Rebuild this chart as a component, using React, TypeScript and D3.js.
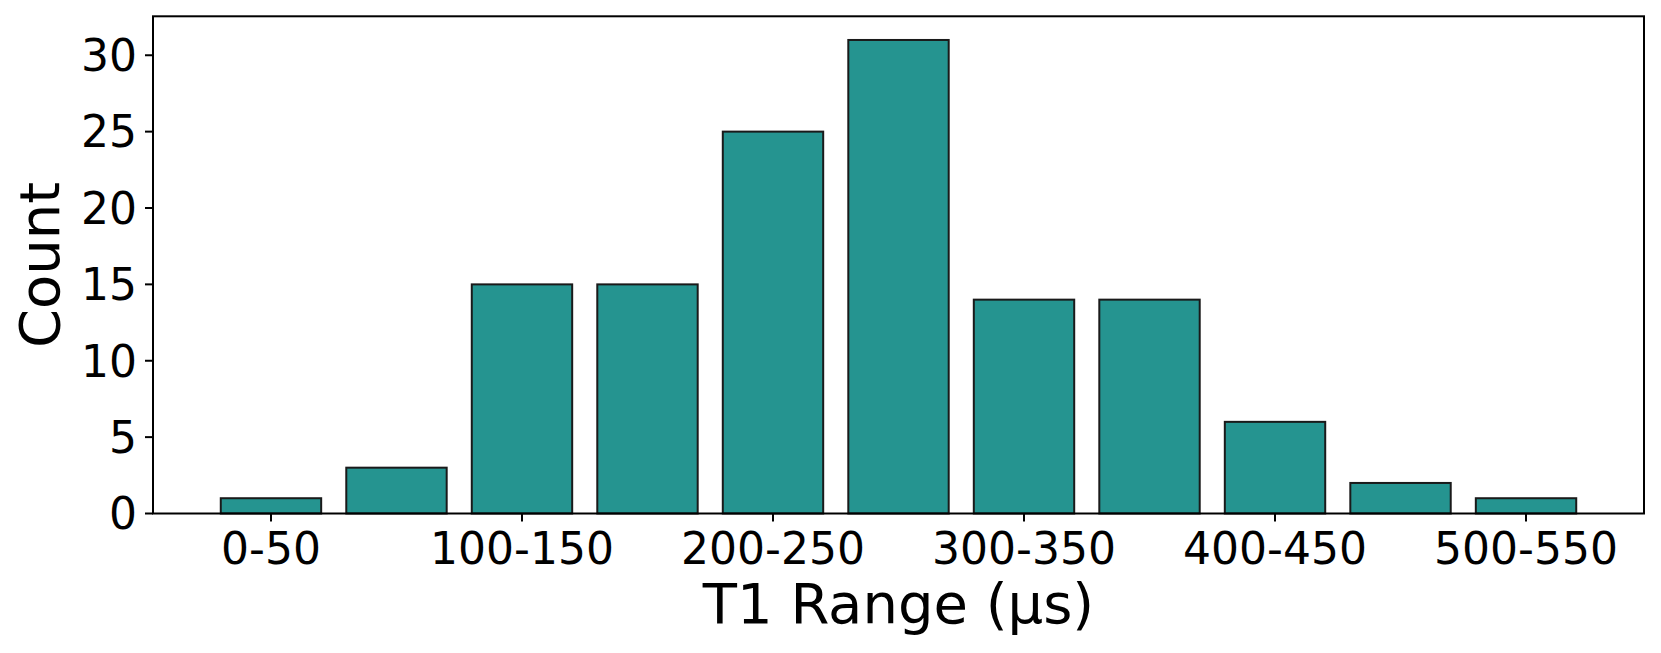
import React from "react";
import * as d3 from "d3";

const categories = ["0-50", "50-100", "100-150", "150-200", "200-250", "250-300", "300-350", "350-400", "400-450", "450-500", "500-550"];
const counts = [1, 3, 15, 15, 25, 31, 14, 14, 6, 2, 1];
const xTickLabels = ["0-50", "100-150", "200-250", "300-350", "400-450", "500-550"];
const yTicks = [0, 5, 10, 15, 20, 25, 30];

const W = 1661;
const H = 653;
const left = 153;
const right = 1644;
const top = 16.3;
const bottom = 513.5;
const FONT = "'DejaVu Sans', sans-serif";

export default function App() {
  const n = categories.length;
  const barW = 0.8;
  const margin = (n - 1 + barW) * 0.05;
  const x = d3.scaleLinear().domain([-barW / 2 - margin, n - 1 + barW / 2 + margin]).range([left, right]);
  const yMax = d3.max(counts)! * 1.05;
  const y = d3.scaleLinear().domain([0, yMax]).range([bottom, top]);
  const unit = x(1) - x(0);

  return (
    <svg width={W} height={H} style={{ position: "absolute", left: 0, top: 0, background: "#fff" }} fontFamily={FONT}>
      <rect x={0} y={0} width={W} height={H} fill="#fff" />
      {counts.map((c, i) => (
        <rect
          key={categories[i]}
          x={x(i - barW / 2)}
          y={y(c)}
          width={barW * unit}
          height={y(0) - y(c)}
          fill="#259490"
          stroke="#1a1a1a"
          strokeWidth={2}
        />
      ))}
      <rect x={left} y={top} width={right - left} height={bottom - top} fill="none" stroke="#000" strokeWidth={2} />
      {yTicks.map((t) => (
        <g key={t}>
          <line x1={left - 8} x2={left} y1={y(t)} y2={y(t)} stroke="#000" strokeWidth={2} />
          <text x={137} y={y(t)} dy="0.36em" textAnchor="end" fontSize={44} fill="#000">
            {t}
          </text>
        </g>
      ))}
      {xTickLabels.map((lab) => {
        const i = categories.indexOf(lab);
        return (
          <g key={lab}>
            <line x1={x(i)} x2={x(i)} y1={bottom} y2={bottom + 8} stroke="#000" strokeWidth={2} />
            <text x={x(i)} y={564} textAnchor="middle" fontSize={44} fill="#000">
              {lab}
            </text>
          </g>
        );
      })}
      <text x={(left + right) / 2} y={623} textAnchor="middle" fontSize={56} fill="#000">
        T1 Range (µs)
      </text>
      <text
        transform={`translate(59, ${(top + bottom) / 2}) rotate(-90)`}
        textAnchor="middle"
        fontSize={56}
        fill="#000"
      >
        Count
      </text>
    </svg>
  );
}
